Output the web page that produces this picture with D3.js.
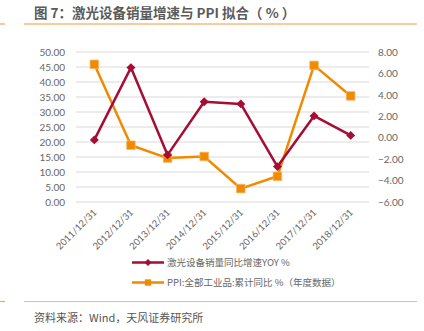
<!DOCTYPE html>
<html>
<head>
<meta charset="utf-8">
<script src="https://cdn.jsdelivr.net/npm/d3@7"></script>
<style>
  html, body { margin: 0; padding: 0; background: #fff; }
  svg { display: block; font-family: "Noto Sans CJK SC", "Noto Sans", sans-serif; }
</style>
</head>
<body>
<svg id="chart" width="424" height="331"></svg>
<script>
// Dates shown along the x axis
const categories = ["2011/12/31", "2012/12/31", "2013/12/31", "2014/12/31",
                    "2015/12/31", "2016/12/31", "2017/12/31", "2018/12/31"];
// Laser equipment sales growth YoY % (left axis)
const salesGrowth = [20.7, 44.8, 15.7, 33.4, 32.7, 11.8, 28.7, 22.2];
// PPI, all industrial products, cumulative YoY % (right axis)
const ppi = [6.85, -0.7, -1.9, -1.75, -4.75, -3.6, 6.75, 3.9];
// Axis ticks
const leftTicks = [0, 5, 10, 15, 20, 25, 30, 35, 40, 45, 50];
const rightTicks = [-6, -4, -2, 0, 2, 4, 6, 8];
// Series names
const seriesNames = ["激光设备销量同比增速YOY %", "PPI:全部工业品:累计同比 %（年度数据）"];

const RED = "#a50d35";
const ORANGE = "#f08a00";
const GREY_TEXT = "#666";

const svg = d3.select("#chart");

// Title and frame lines
svg.append("text")
  .attr("x", 34).attr("y", 17.5)
  .attr("font-size", 13.5).attr("font-weight", "bold").attr("fill", "#5a5a5a")
  .text("图 7：激光设备销量增速与 PPI 拟合（ % ）");
[24, 301.5].forEach(y => {
  svg.append("line").attr("x1", 0).attr("x2", 5).attr("y1", y).attr("y2", y)
    .attr("stroke", "#f4a460").attr("stroke-width", 1.2);
  svg.append("line").attr("x1", 24).attr("x2", 417).attr("y1", y).attr("y2", y)
    .attr("stroke", y < 100 ? "#f39a3a" : "#f7b87a").attr("stroke-width", 1.2);
});
svg.append("text")
  .attr("x", 34).attr("y", 322)
  .attr("font-size", 11).attr("fill", "#555")
  .text("资料来源：Wind，天风证券研究所");

// Plot area
const x0 = 76, x1 = 369, yTop = 52, yBot = 202;
const x = d3.scaleBand().domain(categories).range([x0, x1]);
const yL = d3.scaleLinear().domain([0, 50]).range([yBot, yTop]);
const yR = d3.scaleLinear().domain([-6, 8]).range([yBot, yTop]);

// Gridlines
svg.append("g").selectAll("line").data(leftTicks).join("line")
  .attr("x1", x0).attr("x2", x1)
  .attr("y1", d => yL(d)).attr("y2", d => yL(d))
  .attr("stroke", "#e6e6e6").attr("stroke-width", 1.3);

// Left axis
const leftAxis = svg.append("g").attr("transform", `translate(${x0 - 10},0)`)
  .call(d3.axisLeft(yL).tickValues(leftTicks).tickFormat(d3.format(".2f")).tickSize(0).tickPadding(1));
// Right axis
const rightAxis = svg.append("g").attr("transform", `translate(${x1 + 9},0)`)
  .call(d3.axisRight(yR).tickValues(rightTicks).tickFormat(d3.format(".2f")).tickSize(0).tickPadding(0));
[leftAxis, rightAxis].forEach(a => {
  a.select(".domain").remove();
  a.selectAll("text").attr("font-size", 10).attr("fill", GREY_TEXT)
    .attr("font-family", "Lato, 'Noto Sans', sans-serif");
});

// Bottom axis with rotated labels
const bottomAxis = svg.append("g").attr("transform", `translate(0,${yBot})`)
  .call(d3.axisBottom(x).tickSize(0).tickPadding(0));
bottomAxis.select(".domain").remove();
bottomAxis.selectAll("text")
  .attr("font-size", 9.5).attr("fill", GREY_TEXT)
  .attr("font-family", "Lato, 'Noto Sans', sans-serif")
  .attr("text-anchor", "end")
  .attr("dy", 0)
  .attr("transform", "translate(3,11) rotate(-45)");

const cx = d => x(d) + x.bandwidth() / 2;

// Lines
const lineL = d3.line().x((d, i) => cx(categories[i])).y(d => yL(d));
const lineR = d3.line().x((d, i) => cx(categories[i])).y(d => yR(d));

svg.append("path").datum(ppi).attr("d", lineR)
  .attr("fill", "none").attr("stroke", ORANGE).attr("stroke-width", 2.5).attr("stroke-linejoin", "round");
svg.append("path").datum(salesGrowth).attr("d", lineL)
  .attr("fill", "none").attr("stroke", RED).attr("stroke-width", 2.5).attr("stroke-linejoin", "round");

// Markers
const diamond = d3.symbol().type(d3.symbolSquare).size(40);
svg.append("g").selectAll("path").data(ppi).join("path")
  .attr("d", d3.symbol().type(d3.symbolSquare).size(72))
  .attr("transform", (d, i) => `translate(${cx(categories[i])},${yR(d)})`)
  .attr("fill", ORANGE).attr("stroke", "#f6b35c").attr("stroke-width", 0.8);
svg.append("g").selectAll("path").data(salesGrowth).join("path")
  .attr("d", diamond)
  .attr("transform", (d, i) => `translate(${cx(categories[i])},${yL(d)}) rotate(45)`)
  .attr("fill", RED);

// Legend
const legend = svg.append("g");
const legendRows = [
  { name: seriesNames[0], color: RED, y: 262.5, shape: "diamond" },
  { name: seriesNames[1], color: ORANGE, y: 282.5, shape: "square" }
];
legendRows.forEach(r => {
  legend.append("line").attr("x1", 132).attr("x2", 164).attr("y1", r.y).attr("y2", r.y)
    .attr("stroke", r.color).attr("stroke-width", 2.5);
  if (r.shape === "diamond") {
    legend.append("path").attr("d", d3.symbol().type(d3.symbolSquare).size(24))
      .attr("transform", `translate(148,${r.y}) rotate(45)`).attr("fill", r.color);
  } else {
    legend.append("path").attr("d", d3.symbol().type(d3.symbolSquare).size(40))
      .attr("transform", `translate(148,${r.y})`).attr("fill", r.color);
  }
  legend.append("text").attr("x", 167).attr("y", r.y + 3.5)
    .attr("font-size", 9.5).attr("fill", GREY_TEXT).text(r.name);
});
</script>
</body>
</html>
